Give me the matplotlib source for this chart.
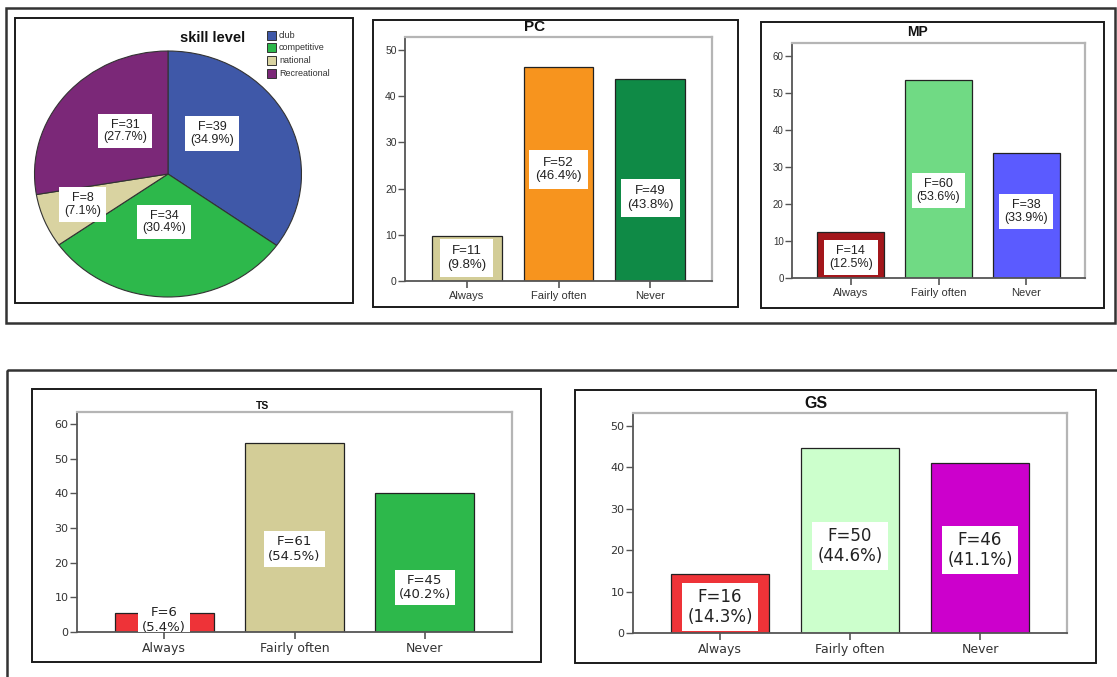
import matplotlib
matplotlib.use("Agg")
import matplotlib.pyplot as plt
from matplotlib.patches import Rectangle

W, H = 1117, 677

# ---------------- data ----------------
skill_levels = ['club', 'competitive', 'national', 'Recreational']
skill_counts = [39, 34, 8, 31]
skill_pcts = [34.9, 30.4, 7.1, 27.7]

categories = ['Always', 'Fairly often', 'Never']

pc_counts = [11, 52, 49]
pc_pcts = [9.8, 46.4, 43.8]
mp_counts = [14, 60, 38]
mp_pcts = [12.5, 53.6, 33.9]
ts_counts = [6, 61, 45]
ts_pcts = [5.4, 54.5, 40.2]
gs_counts = [16, 50, 46]
gs_pcts = [14.3, 44.6, 41.1]

pc_yticks = [0, 10, 20, 30, 40, 50]
mp_yticks = [0, 10, 20, 30, 40, 50, 60]
ts_yticks = [0, 10, 20, 30, 40, 50, 60]
gs_yticks = [0, 10, 20, 30, 40, 50]

# ---------------- styles ----------------
skill_colors = ['#3F58A8', '#2DB84B', '#D9D3A1', '#7B2878']
pc_colors = ['#D3CD97', '#F7941E', '#0F8A46']
mp_colors = ['#A3161B', '#70DA84', '#5B5BFF']
ts_colors = ['#EE3338', '#D3CD97', '#2DB84B']
gs_colors = ['#EE3338', '#CCFFCC', '#CC00CC']

ARIAL = ['Liberation Sans', 'DejaVu Sans']
WIDE = ['DejaVu Sans']

fig = plt.figure(figsize=(W / 100, H / 100), dpi=100)
fig.patch.set_facecolor('white')


def frac_rect(l, t, r, b):
    return [l / W, 1 - b / H, (r - l) / W, (b - t) / H]


# overlay for frames / legend
ov = fig.add_axes([0, 0, 1, 1], zorder=0)
ov.set_xlim(0, W)
ov.set_ylim(H, 0)
ov.axis('off')

# outer frames
ov.add_patch(Rectangle((6, 8), 1109, 315, fill=False, edgecolor='#333333', linewidth=1.8))
ov.add_patch(Rectangle((7, 370), 1130, 340, fill=False, edgecolor='#333333', linewidth=1.8, clip_on=True))
# inner chart boxes
for (l, t, r, b) in [(15, 18, 353, 303), (373, 20, 738, 307), (761, 22, 1104, 308),
                     (32, 389, 541, 662), (575, 390, 1096, 663)]:
    ov.add_patch(Rectangle((l, t), r - l, b - t, fill=False, edgecolor='#1a1a1a', linewidth=1.4))

# ---------------- pie ----------------
axp = fig.add_axes(frac_rect(34.5, 51, 301.5, 297), zorder=2)
axp.pie(skill_pcts, colors=skill_colors, startangle=90, counterclock=False,
        wedgeprops=dict(edgecolor='#333333', linewidth=0.8, clip_on=False))
axp.set_aspect('auto')
axp.set_xlim(-1, 1)
axp.set_ylim(-1, 1)
axp.axis('off')
pie_label_pos = [(0.33, 0.33), (-0.03, -0.39), (-0.64, -0.25), (-0.32, 0.35)]
for (px, py), c, p in zip(pie_label_pos, skill_counts, skill_pcts):
    axp.text(px, py, f'F={c}\n({p:.1f}%)', ha='center', va='center', fontsize=9,
             family=ARIAL, color='#222222', linespacing=1.1,
             bbox=dict(facecolor='white', edgecolor='none', boxstyle='square,pad=0.4'))

fig.text(213 / W, 1 - 38 / H, 'skill level', ha='center', va='center',
         fontsize=10.5, weight='bold', family=ARIAL, color='#111111')
leg_y = [35, 47.7, 60.3, 73]
for yy, name, col in zip(leg_y, skill_levels, skill_colors):
    ov.add_patch(Rectangle((267, yy - 4.5), 9, 9, facecolor=col, edgecolor='#333333', linewidth=0.7))
    ov.text(279, yy, name, ha='left', va='center', fontsize=6.5, family=ARIAL, color='#333333')


# ---------------- bar charts ----------------
def bar_chart(rect, title, title_xy, title_size, pcts, counts, colors, ymax, yticks,
              label_fracs, lab_family, lab_size, lab_pad, tick_family, tick_size, cat_size):
    ax = fig.add_axes(frac_rect(*rect), zorder=2)
    xs = list(range(len(categories)))
    ax.bar(xs, pcts, width=0.76, color=colors, edgecolor='#222222', linewidth=0.9, zorder=2)
    ax.set_xlim(-0.67, 2.67)
    ax.set_ylim(0, ymax)
    ax.set_yticks(yticks)
    ax.set_xticks(xs)
    ax.set_xticklabels(categories)
    for sp in ['top', 'right']:
        ax.spines[sp].set_color('#b5b5b5')
        ax.spines[sp].set_linewidth(1.6)
    for sp in ['left', 'bottom']:
        ax.spines[sp].set_color('#555555')
        ax.spines[sp].set_linewidth(1.3)
    ax.tick_params(axis='y', direction='out', length=5, width=1.0, color='#555555', pad=1,
                   labelsize=tick_size, labelcolor='#333333')
    ax.tick_params(axis='x', direction='out', length=5, width=1.2, color='#555555', pad=2,
                   labelsize=cat_size, labelcolor='#333333')
    for t in ax.get_xticklabels() + ax.get_yticklabels():
        t.set_family(tick_family)
    for i, (p, c) in enumerate(zip(pcts, counts)):
        ax.text(i, p * label_fracs[i], f'F={c}\n({p:.1f}%)', ha='center', va='center',
                fontsize=lab_size, family=lab_family, color='#222222', linespacing=1.15,
                clip_on=True, zorder=3,
                bbox=dict(facecolor='white', edgecolor='none',
                          boxstyle=f'square,pad={lab_pad}'))
    fig.text(title_xy[0] / W, 1 - title_xy[1] / H, title, ha='center', va='center',
             fontsize=title_size, weight='bold', family=ARIAL, color='#111111')
    return ax


bar_chart((405, 37, 712, 281), 'PC', (535, 27), 11, pc_pcts, pc_counts, pc_colors, 52.8,
          pc_yticks, [0.51, 0.52, 0.41], ARIAL, 9.5, 0.5, ARIAL, 7.5, 8)
bar_chart((792, 43, 1085, 278), 'MP', (917, 32), 10, mp_pcts, mp_counts, mp_colors, 63.5,
          mp_yticks, [0.45, 0.44, 0.53], ARIAL, 9, 0.4, ARIAL, 7, 8)
bar_chart((77, 412, 512, 632), 'TS', (262, 406), 7.5, ts_pcts, ts_counts, ts_colors, 63.5,
          ts_yticks, [0.65, 0.44, 0.32], WIDE, 9.5, 0.3, WIDE, 8, 9)
bar_chart((633, 413, 1067, 633), 'GS', (816, 403), 11.5, gs_pcts, gs_counts, gs_colors, 53.1,
          gs_yticks, [0.44, 0.47, 0.49], WIDE, 12, 0.3, WIDE, 8, 9)

fig.savefig('out.png', dpi=100, facecolor='white')
